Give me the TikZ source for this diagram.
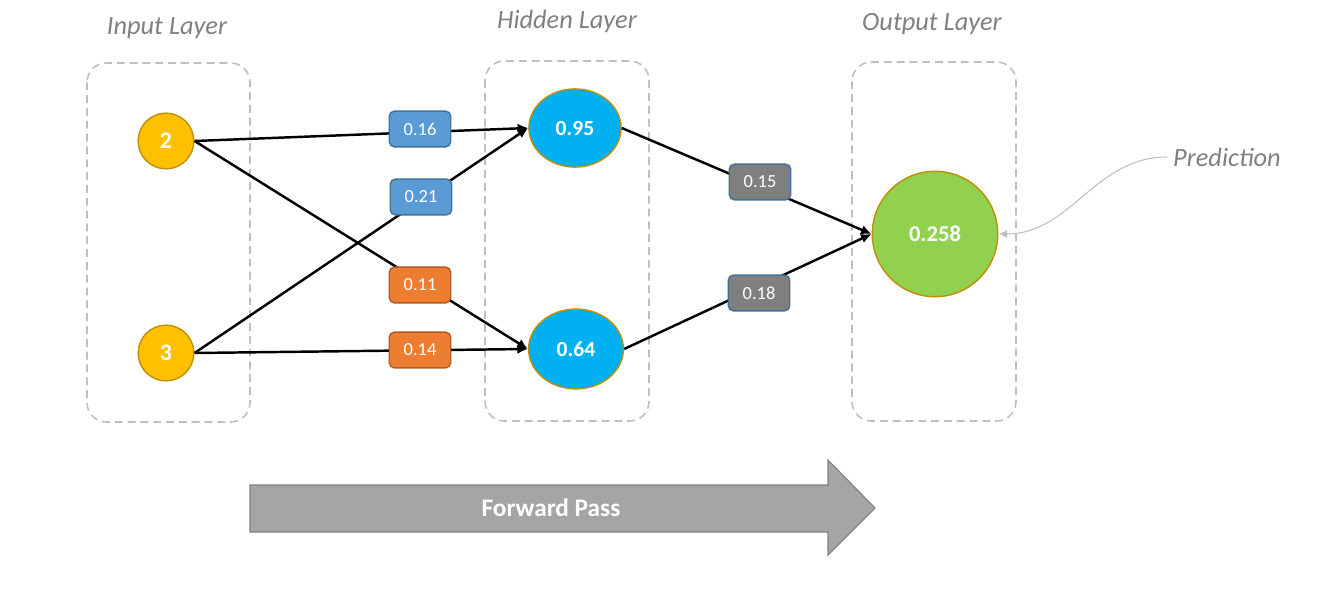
\documentclass[tikz,border=0pt]{standalone}
\usepackage{fontspec}
\setmainfont{Carlito}
\usetikzlibrary{shapes.geometric, arrows.meta, positioning}
\definecolor{inyellow}{HTML}{FFC000}
\definecolor{ringgold}{HTML}{BF9000}
\definecolor{hidblue}{HTML}{00B0F0}
\definecolor{outgreen}{HTML}{92D050}
\definecolor{wblue}{HTML}{5B9BD5}
\definecolor{wblueline}{HTML}{41719C}
\definecolor{worange}{HTML}{ED7D31}
\definecolor{worangeline}{HTML}{AE5A21}
\definecolor{wgray}{HTML}{7F7F7F}
\definecolor{boxgray}{HTML}{BFBFBF}
\definecolor{labgray}{HTML}{808080}
\definecolor{passgray}{HTML}{A5A5A5}

\begin{document}
\begin{tikzpicture}[x=0.02cm, y=-0.02cm,
    layerbox/.style={draw=boxgray, line width=0.9pt, dash pattern=on 4.5pt off 2.8pt, rounded corners=11pt},
    layername/.style={text=labgray, font=\itshape\fontsize{15}{17}\selectfont},
    neuron/.style={draw=ringgold, line width=0.8pt, text=white, inner sep=0pt},
    inneuron/.style={neuron, circle, fill=inyellow, minimum size=31.7pt, font=\bfseries\fontsize{13.5}{15}\selectfont},
    hidneuron/.style={neuron, ellipse, fill=hidblue, minimum width=52.5pt, minimum height=44.5pt, font=\bfseries\fontsize{12.3}{14}\selectfont},
    outneuron/.style={neuron, circle, fill=outgreen, minimum size=71.4pt, font=\bfseries\fontsize{12.9}{14}\selectfont},
    weight/.style={draw, line width=0.8pt, rounded corners=3pt, text=white, minimum width=35pt, minimum height=20.4pt, inner sep=0pt, font=\fontsize{10.5}{12}\selectfont},
    wb/.style={weight, fill=wblue, draw=wblueline},
    wo/.style={weight, fill=worange, draw=worangeline},
    wg/.style={weight, fill=wgray, draw=wblueline},
    link/.style={line width=1.4pt, -{Latex[length=6pt, width=5.5pt]}}
  ]
  \useasboundingbox (0,0) rectangle (1326,592);

  % layers
  \draw[layerbox] (87,63) rectangle (250,422);
  \draw[layerbox] (485,61) rectangle (649,421);
  \draw[layerbox] (852,62) rectangle (1016,421);
  \node[layername] (lin) at (167,28) {Input Layer};
  \node[layername] (lhid) at (567,21) {Hidden Layer};
  \node[layername] (lout) at (932,24) {Output Layer};

  % neurons
  \node[inneuron] (i1) at (166,141) {2};
  \node[inneuron] (i2) at (166,353) {3};
  \node[hidneuron] (h1) at (575,128) {0.95};
  \node[hidneuron, minimum width=54pt, minimum height=45.5pt] (h2) at (576,349) {0.64};
  \node[outneuron] (o1) at (935,234) {0.258};

  \draw[link] (i1.east) -- (h1.west);
  \draw[link] (i1.east) -- (h2.west);
  \draw[link] (i2.east) -- (h1.west);
  \draw[link] (i2.east) -- (h2.west);
  \draw[link] (h1.east) -- (o1.west);
  \draw[link] (h2.east) -- (o1.west);

  % weights
  \node[wb] (w11) at (420,129) {0.16};
  \node[wb] (w21) at (421,197) {0.21};
  \node[wo] (w12) at (420,285) {0.11};
  \node[wo] (w22) at (420,350) {0.14};
  \node[wg] (v1) at (760,182) {0.15};
  \node[wg] (v2) at (759,293) {0.18};

  % prediction note
  \node[layername] (pred) at (1227,157) {Prediction};
  \draw[draw=boxgray, line width=0.6pt, -{Latex[length=5pt, width=4.5pt]}]
    (pred.west) to[out=180, in=0] (o1.east);

  % forward pass arrow
  \draw[draw=wgray, fill=passgray, line width=0.6pt]
    (250,485) -- (828,485) -- (828,460) -- (875,508) -- (828,555) -- (828,532) -- (250,532) -- cycle;
  \node[text=white, font=\bfseries\fontsize{14.4}{16}\selectfont] (fwd) at (551,508) {Forward Pass};
\end{tikzpicture}
\end{document}
